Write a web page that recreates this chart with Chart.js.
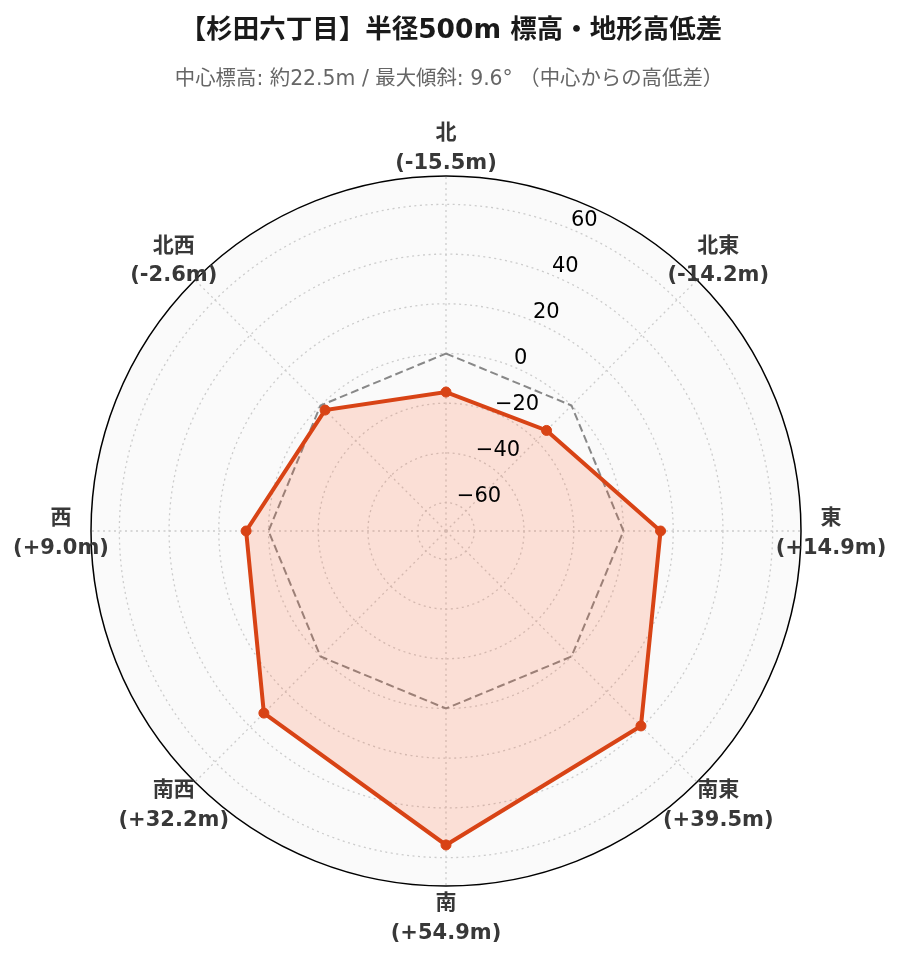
<!DOCTYPE html>
<html>
<head>
<meta charset="utf-8">
<script src="https://cdn.jsdelivr.net/npm/chart.js@4/dist/chart.umd.min.js"></script>
<style>
  html, body { margin: 0; padding: 0; background: #ffffff; }
  #wrap { width: 900px; height: 962px; }
</style>
</head>
<body>
<div id="wrap"><canvas id="c" width="900" height="962"></canvas></div>
<script>
// ---- data ----
const titleText = '【杉田六丁目】半径500m 標高・地形高低差';
const subtitleText = '中心標高: 約22.5m / 最大傾斜: 9.6° （中心からの高低差）';
const categories = ['北', '北東', '東', '南東', '南', '南西', '西', '北西'];
const elevationDiff = [-15.5, -14.2, 14.9, 39.5, 54.9, 32.2, 9.0, -2.6];
const zeroLine = [0, 0, 0, 0, 0, 0, 0, 0];
const radialTicks = [-60, -40, -20, 0, 20, 40, 60];
const axisMin = -71.4;
const axisMax = 71.4;

const LATIN = '"DejaVu Sans", "Noto Sans CJK JP", sans-serif';

function fmtDiff(v) {
  return '(' + (v >= 0 ? '+' : '-') + Math.abs(v).toFixed(1) + 'm)';
}
function fmtTick(v) {
  return (v < 0 ? '\u2212' : '') + Math.abs(v);
}

const textPlugin = {
  id: 'texts',
  afterDraw(chart) {
    const ctx = chart.ctx;
    const r = chart.scales.r;
    ctx.save();
    // title
    ctx.textAlign = 'center';
    ctx.textBaseline = 'alphabetic';
    ctx.fillStyle = '#1a1a1a';
    ctx.font = 'bold 26.5px ' + LATIN;
    ctx.fillText(titleText, 451, 37.5);
    ctx.fillStyle = '#666666';
    ctx.font = '20.4px ' + LATIN;
    ctx.fillText(subtitleText, 449, 85);

    // radial tick labels at 22.5°
    ctx.fillStyle = '#000000';
    ctx.font = '21px ' + LATIN;
    ctx.textAlign = 'left';
    radialTicks.forEach(v => {
      const d = r.getDistanceFromCenterForValue(v);
      const p = r.getPointPosition(0.5, d);
      ctx.fillText(fmtTick(v), p.x, p.y - 3);
    });

    // point labels
    ctx.textAlign = 'center';
    ctx.fillStyle = '#383838';
    ctx.font = 'bold 21px ' + LATIN;
    const labelDist = r.drawingArea + 30;
    categories.forEach((c, i) => {
      const p = r.getPointPosition(i, labelDist);
      ctx.fillText(c, p.x, p.y - 7);
      ctx.fillText(fmtDiff(elevationDiff[i]), p.x, p.y + 22.5);
    });
    ctx.restore();
  }
};

new Chart(document.getElementById('c'), {
  type: 'radar',
  data: {
    labels: categories,
    datasets: [
      {
        data: elevationDiff,
        borderColor: '#D84315',
        backgroundColor: 'rgba(255, 87, 34, 0.17)',
        borderWidth: 4,
        fill: 'start',
        tension: 0,
        pointRadius: 5,
        pointBackgroundColor: '#D84315',
        pointBorderColor: '#D84315',
        pointBorderWidth: 1
      },
      {
        data: zeroLine,
        borderColor: '#888888',
        borderWidth: 2,
        borderDash: [8, 4],
        fill: false,
        pointRadius: 0,
        tension: 0
      }
    ]
  },
  options: {
    responsive: false,
    animation: false,
    devicePixelRatio: 1,
    layout: { padding: { left: 91, right: 99, top: 176, bottom: 76 } },
    plugins: {
      legend: { display: false },
      tooltip: { enabled: false },
      title: { display: false }
    },
    scales: {
      r: {
        min: axisMin,
        max: axisMax,
        startAngle: 0,
        backgroundColor: '#fafafa',
        afterBuildTicks: (scale) => {
          scale.ticks = radialTicks.concat([axisMax]).map(v => ({ value: v }));
        },
        ticks: { display: false },
        pointLabels: { display: false },
        angleLines: {
          display: true,
          color: '#cccccc',
          lineWidth: 1.3,
          borderDash: [2, 3.5]
        },
        grid: {
          circular: true,
          color: (ctx) => (ctx.tick && ctx.tick.value === axisMax) ? '#000000' : '#cccccc',
          lineWidth: (ctx) => (ctx.tick && ctx.tick.value === axisMax) ? 1.5 : 1.3
        },
        border: {
          dash: (ctx) => (ctx.tick && ctx.tick.value === axisMax) ? [] : [2, 3.5]
        }
      }
    }
  },
  plugins: [textPlugin]
});
</script>
</body>
</html>
